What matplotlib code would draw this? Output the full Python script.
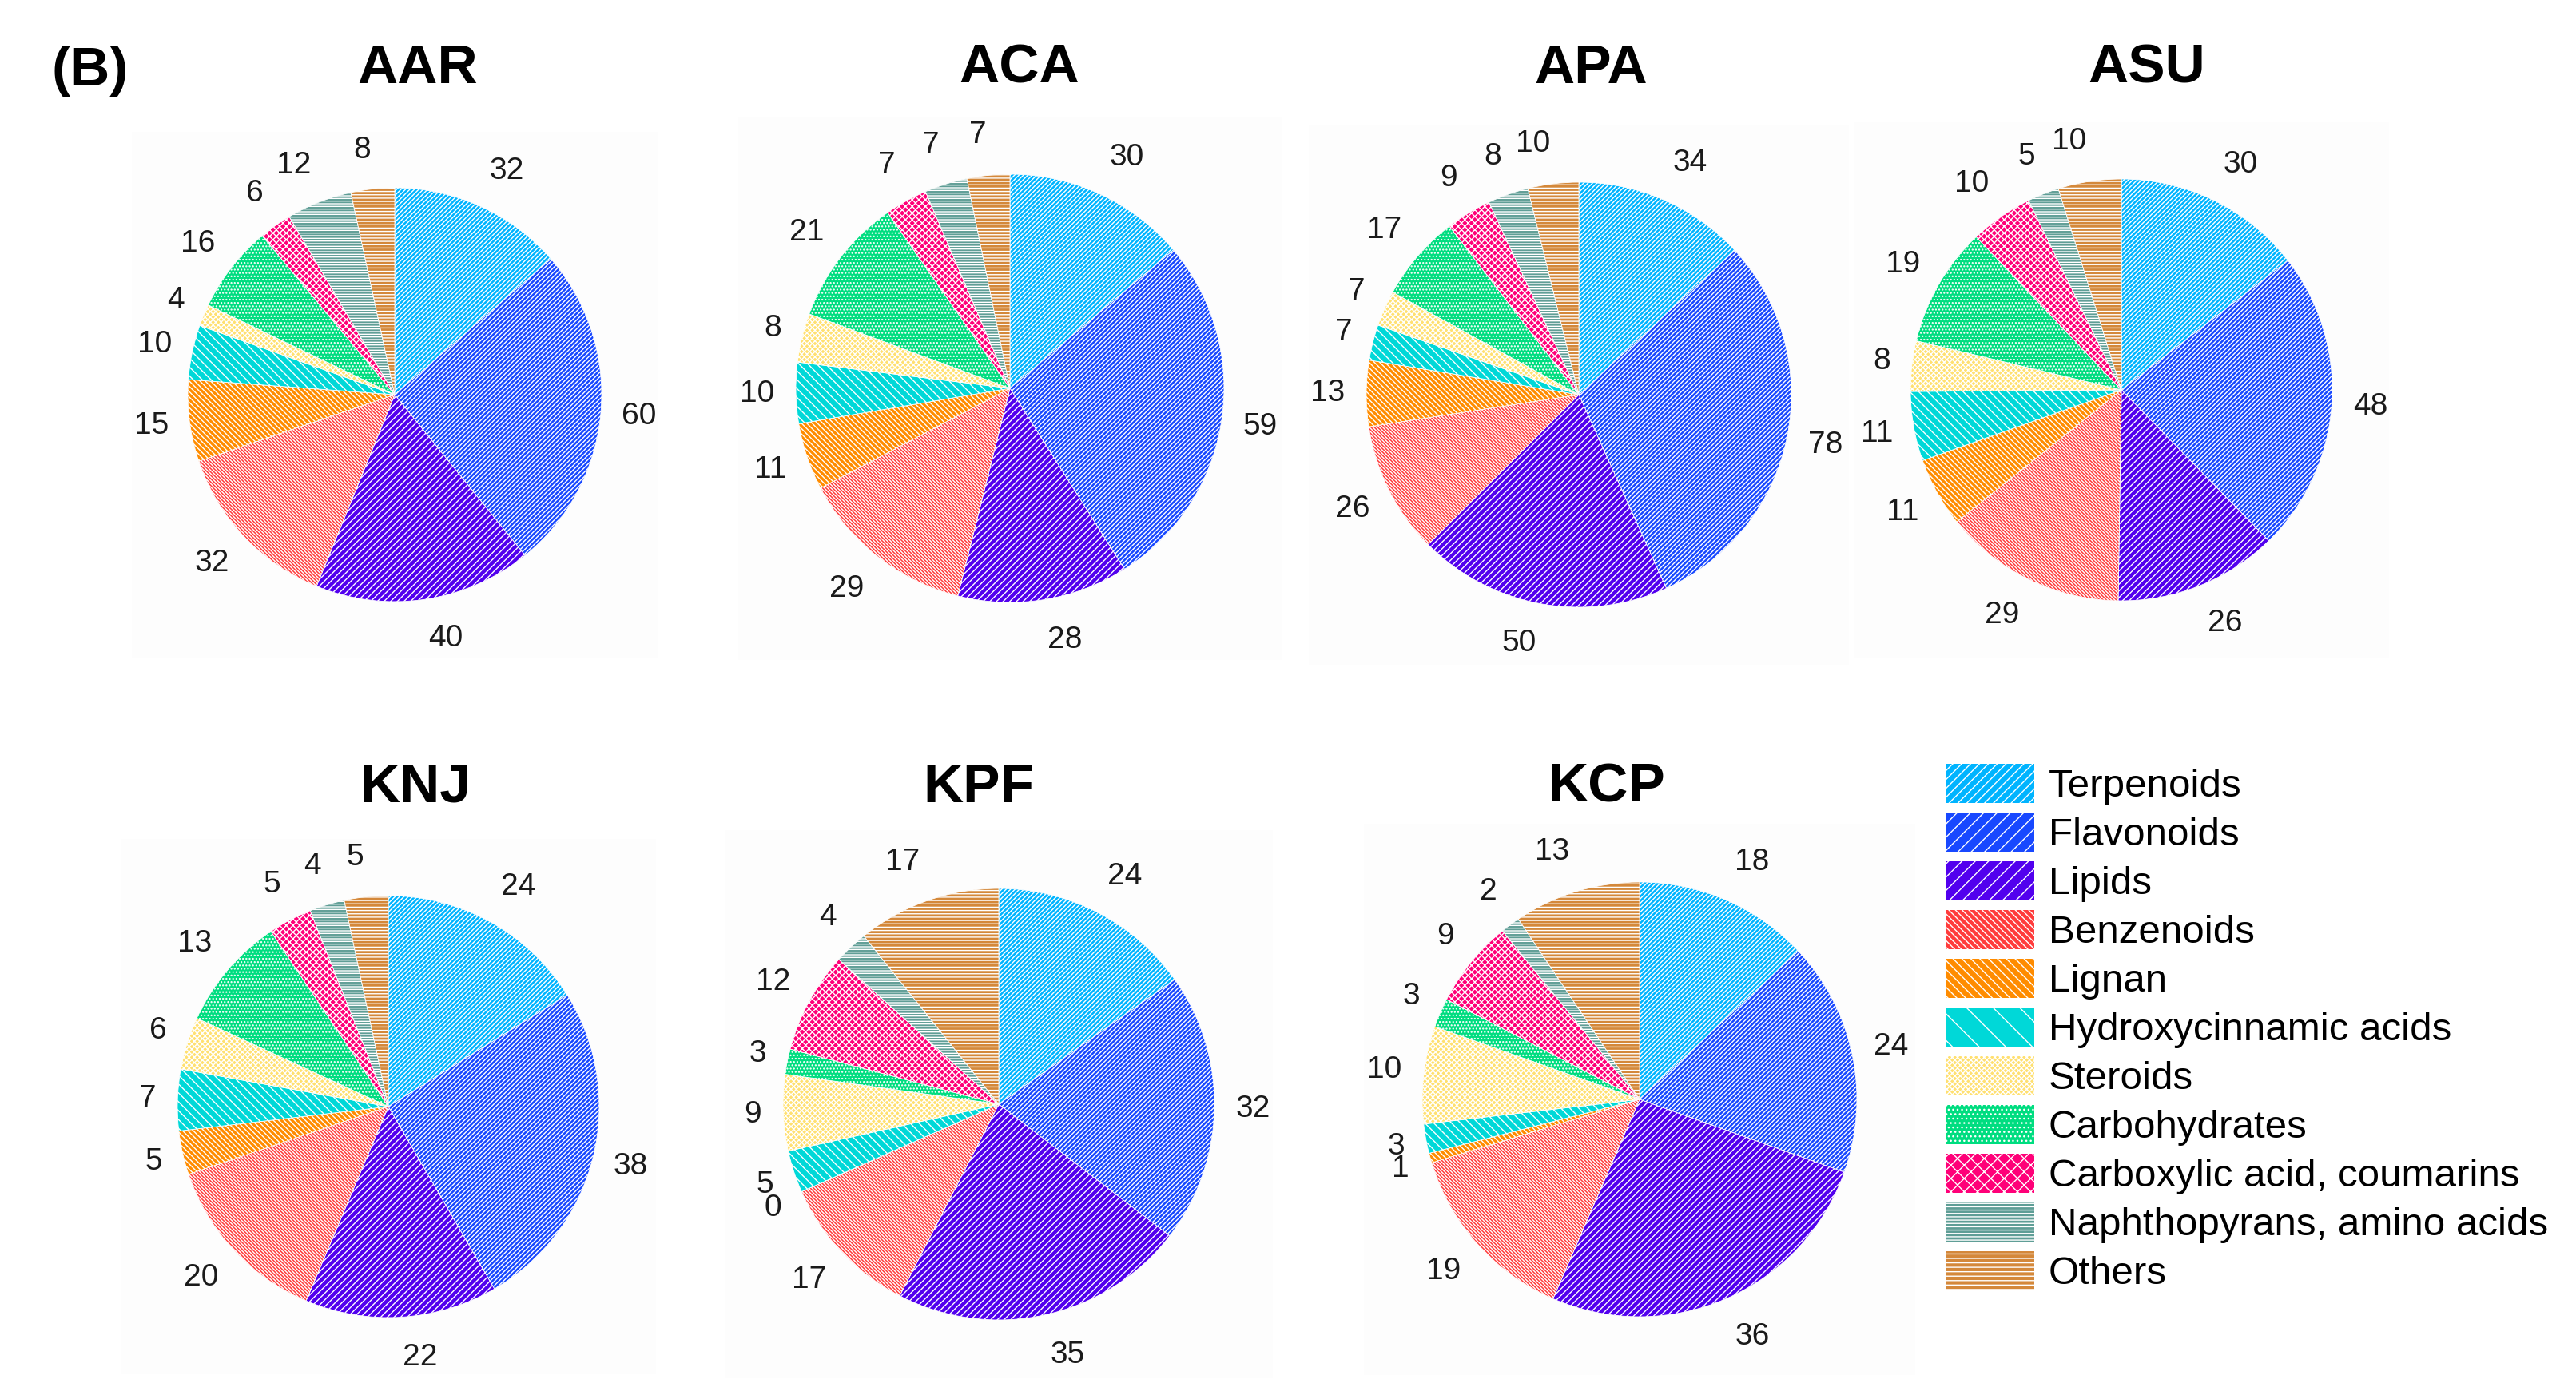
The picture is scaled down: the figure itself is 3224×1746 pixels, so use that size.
import numpy as np
import matplotlib
matplotlib.use('Agg')
import matplotlib.pyplot as plt
import matplotlib.patches as mpatches

plt.rcParams['font.family'] = ['Liberation Sans', 'DejaVu Sans']
plt.rcParams['hatch.linewidth'] = 1.0

categories = ['Terpenoids', 'Flavonoids', 'Lipids', 'Benzenoids', 'Lignan',
              'Hydroxycinnamic acids', 'Steroids', 'Carbohydrates',
              'Carboxylic acid, coumarins', 'Naphthopyrans, amino acids', 'Others']

samples = ['AAR', 'ACA', 'APA', 'ASU', 'KNJ', 'KPF', 'KCP']
aar = [32, 60, 40, 32, 15, 10, 4, 16, 6, 12, 8]
aca = [30, 59, 28, 29, 11, 10, 8, 21, 7, 7, 7]
apa = [34, 78, 50, 26, 13, 7, 7, 17, 9, 8, 10]
asu = [30, 48, 26, 29, 11, 11, 8, 19, 10, 5, 10]
knj = [24, 38, 22, 20, 5, 7, 6, 13, 5, 4, 5]
kpf = [24, 32, 35, 17, 0, 5, 9, 3, 12, 4, 17]
kcp = [18, 24, 36, 19, 1, 3, 10, 3, 9, 2, 13]
counts = [aar, aca, apa, asu, knj, kpf, kcp]

colors = ['#00b4ff', '#1848ff', '#5200ee', '#ff3c3c', '#ff8c00', '#00d8d8',
          '#ffe070', '#00dd80', '#ff0078', '#5f9e96', '#d4883a']
pie_hatches = ['/' * 6, '/' * 6, '/' * 4, '\\' * 8, '\\' * 5, '\\' * 3,
               'x' * 5, '.' * 4, 'x' * 4, '-' * 5, '-' * 4]
legend_hatches = ['/' * 3, '/' * 2, '/' * 2, '\\' * 4, '\\' * 3, '\\',
                  'x' * 5, '.' * 3, 'x' * 2, '-' * 4, '-' * 3]

W, H = 3224, 1746
# pie centre (x, y) and radius in pixels
pie_layout = [(494, 494, 259), (1264, 486, 268), (1976, 494, 266), (2655, 488, 264),
              (486, 1385, 264), (1250, 1382, 270), (2052, 1376, 272)]
title_pos = [(523, 86), (1276, 86), (1991, 86), (2687, 86),
             (520, 986), (1225, 986), (2011, 986)]

fig = plt.figure(figsize=(W / 100, H / 100), dpi=100)

for name, vals, (cx, cy, R), (tx, ty) in zip(samples, counts, pie_layout, title_pos):
    e = 1.27
    ax = fig.add_axes([(cx - e * R) / W, 1 - (cy + e * R) / H, 2 * e * R / W, 2 * e * R / H])
    wedges, texts = ax.pie(vals, labels=[str(v) for v in vals], colors=colors,
                           startangle=90, counterclock=False, labeldistance=1.1,
                           wedgeprops=dict(edgecolor='white', linewidth=0.6),
                           textprops=dict(fontsize=28, color='#1a1a1a'))
    for w, h in zip(wedges, pie_hatches):
        w.set_hatch(h)
    # push labels a little further out above and below the pie
    for t in texts:
        x, y = t.get_position()
        r = np.hypot(x, y)
        t.set_position((x, y + 0.09 * y / r))
    ax.set_frame_on(True)
    for s in ax.spines.values():
        s.set_visible(False)
    ax.set_facecolor('#fdfdfd')
    ax.set_xlim(-e, e)
    ax.set_ylim(-e, e)
    ax.set_xticks([])
    ax.set_yticks([])
    fig.text(tx / W, 1 - ty / H, name, ha='center', va='center',
             fontsize=50, fontweight='bold')

fig.text(65 / W, 1 - 89 / H, '(B)', ha='left', va='center', fontsize=50, fontweight='bold')

handles = [mpatches.Patch(facecolor=c, edgecolor='white', hatch=h, linewidth=0)
           for c, h in zip(colors, legend_hatches)]
fig.legend(handles, categories, loc='upper left', bbox_to_anchor=(2436 / W, 1 - 956 / H),
           frameon=False, fontsize=35.5, handlelength=2.24, handleheight=1.15,
           handletextpad=0.35, labelspacing=0.2, borderpad=0, borderaxespad=0)

fig.savefig('out.png', dpi=100)
